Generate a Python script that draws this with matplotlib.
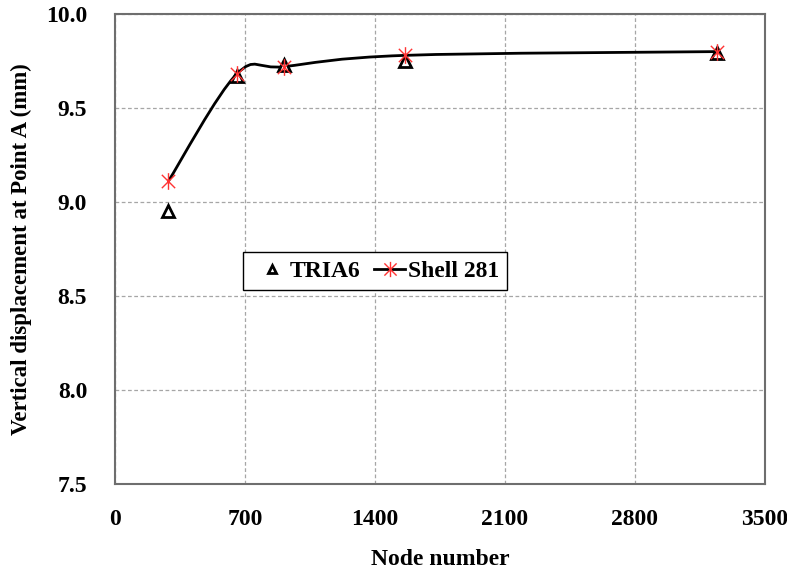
import matplotlib
matplotlib.use("Agg")
import matplotlib.pyplot as plt
from matplotlib.path import Path
from matplotlib.patches import PathPatch, Rectangle
from matplotlib.lines import Line2D
import numpy as np

plt.rcParams['font.family'] = ['Liberation Serif', 'DejaVu Serif']
plt.rcParams['font.weight'] = 'bold'

# Data
tria_nodes = [287, 655, 910, 1562, 3240]
tria_disp = [8.95, 9.67, 9.73, 9.75, 9.79]
shell_nodes = [287, 655, 910, 1562, 3240]
shell_disp = [9.11, 9.68, 9.72, 9.78, 9.80]
x_ticks = [0, 700, 1400, 2100, 2800, 3500]
y_ticks = [7.5, 8.0, 8.5, 9.0, 9.5, 10.0]
series_names = ["TRIA6", "Shell 281"]

fig = plt.figure(figsize=(7.87, 5.74), dpi=100)
ax = fig.add_axes([0.1461, 0.1568, 0.8259, 0.8188])

ax.set_xlim(0, 3500)
ax.set_ylim(7.5, 10.0)
ax.set_xticks(x_ticks)
ax.set_yticks(y_ticks)
ax.set_xticklabels([str(v) for v in x_ticks])
ax.set_yticklabels([f"{v:.1f}" for v in y_ticks])
ax.tick_params(length=0, labelsize=17)
ax.tick_params(axis='x', pad=18)
ax.tick_params(axis='y', pad=20)
for lab in ax.get_xticklabels() + ax.get_yticklabels():
    lab.set_fontweight('bold')

ax.grid(True, color='#a6a6a6', linestyle=(0, (3, 2)), linewidth=0.9)
ax.set_axisbelow(True)
for s in ax.spines.values():
    s.set_color('#6e6e6e')
    s.set_linewidth(1.5)

# Smoothed line (Excel-style Bezier through the shell points)
pts = np.column_stack([shell_nodes, shell_disp]).astype(float)
n = len(pts)
verts = [tuple(pts[0])]
codes = [Path.MOVETO]
for i in range(n - 1):
    p0 = pts[i - 1] if i > 0 else pts[i]
    p1 = pts[i]
    p2 = pts[i + 1]
    p3 = pts[i + 2] if i + 2 < n else pts[i + 1]
    c1 = p1 + (p2 - p0) / 6.0
    c2 = p2 - (p3 - p1) / 6.0
    verts += [tuple(c1), tuple(c2), tuple(p2)]
    codes += [Path.CURVE4] * 3
patch = PathPatch(Path(verts, codes), facecolor='none', edgecolor='black', linewidth=2, zorder=3)
ax.add_patch(patch)

# Excel-like star marker: X plus vertical bar
star = Path([(-1, -1), (1, 1), (-1, 1), (1, -1), (0, -1.25), (0, 1.25)],
            [Path.MOVETO, Path.LINETO, Path.MOVETO, Path.LINETO, Path.MOVETO, Path.LINETO])

ax.plot(tria_nodes, tria_disp, linestyle='none', marker='^', markersize=8,
        markerfacecolor='white', markeredgecolor='black', markeredgewidth=2, zorder=4)
ax.plot(shell_nodes, shell_disp, linestyle='none', marker=star, markersize=12,
        markeredgecolor='#ff3333', markerfacecolor='none', markeredgewidth=1, zorder=5)

ax.set_xlabel("Node number", fontsize=17, fontweight='bold', labelpad=14)
ax.set_ylabel("Vertical displacement at Point A (mm)", fontsize=16.5, fontweight='bold', labelpad=10)

# Legend frame
ax.add_patch(Rectangle((0.197, 0.4128), 0.406, 0.0809, transform=ax.transAxes,
                       facecolor='white', edgecolor='black', linewidth=1.0, zorder=6))

h1 = Line2D([], [], linestyle='none', marker='^', markersize=6, markerfacecolor='white',
            markeredgecolor='black', markeredgewidth=2)
h2 = Line2D([], [], color='black', linewidth=2, marker=star, markersize=11,
            markeredgecolor='#ff3333', markerfacecolor='none', markeredgewidth=1)
leg = ax.legend([h1, h2], series_names, loc='center left', bbox_to_anchor=(0.205, 0.453),
                ncol=2, frameon=False, prop={'weight': 'bold', 'size': 17},
                handlelength=1.3, handletextpad=0.1, columnspacing=0.6,
                borderpad=0.35, borderaxespad=0)
leg.set_zorder(7)

fig.savefig("out.png", dpi=100)
